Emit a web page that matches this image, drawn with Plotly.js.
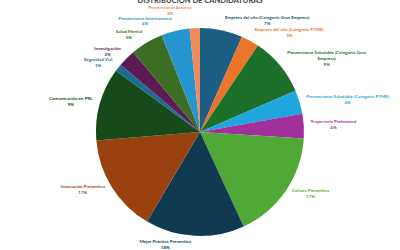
<!DOCTYPE html>
<html>
<head>
<meta charset="utf-8">
<script src="https://cdn.plot.ly/plotly-3.0.1.min.js"></script>
<style>html,body{margin:0;padding:0;background:#fff;}#chart{width:400px;height:250px;}path.textline{display:none;}</style>
</head>
<body>
<div id="chart"></div>
<script>
// Categories (clockwise from 12 o'clock)
const categories = [
  "Empresa del año (Categoría Gran Empresa)",
  "Empresa del año (Categoría PYME)",
  "Prevencionar Saludable (Categoría Gran Empresa)",
  "Prevencionar Saludable (Categoría PYME)",
  "Trayectoria Profesional",
  "Cultura Preventiva",
  "Mejor Práctica Preventiva",
  "Innovación Preventiva",
  "Comunicación en PRL",
  "Seguridad Vial",
  "Investigación",
  "Salud Mental",
  "Prevencionar Internacional",
  "Prevencionar Asturias"
];
// Label text as printed (with wrapping)
const displayLabels = [
  "Empresa del año (Categoría Gran Empresa)",
  "Empresa del año (Categoría PYME)",
  "Prevencionar Saludable (Categoría Gran<br>Empresa)",
  "Prevencionar Saludable (Categoría PYME)",
  "Trayectoria Profesional",
  "Cultura Preventiva",
  "Mejor Práctica Preventiva",
  "Innovación Preventiva",
  "Comunicación en PRL",
  "Seguridad Vial",
  "Investigación",
  "Salud Mental",
  "Prevencionar Internacional",
  "Prevencionar Asturias"
];
// Slice sizes as drawn (share of the circle, %)
const sliceValues = [6.6, 2.8, 9.1, 3.7, 3.8, 17.1, 15.4, 15.2, 11.3, 1.2, 2.7, 5.1, 4.4, 1.6];
// Percent labels as printed
const percentLabels = ["7%", "3%", "9%", "4%", "4%", "17%", "18%", "17%", "9%", "1%", "3%", "5%", "4%", "2%"];
const sliceColors = [
  "#1c5e84", "#ec7429", "#1d7029", "#1fa6de", "#a2309a", "#50a836", "#0f3a52",
  "#99420f", "#174a1a", "#1b6c90", "#5d1b55", "#3b6d22", "#2595cf", "#ef8a5b"
];
const textColors = [
  "#1c4f75", "#ec7429", "#1d7029", "#1fa6de", "#a2309a", "#50a836", "#0f3a52",
  "#99420f", "#174a1a", "#1b6c90", "#5d1b55", "#3b6d22", "#2595cf", "#ef8a5b"
];

const pieSlices = {
  type: "pie",
  labels: categories,
  values: sliceValues,
  sort: false,
  direction: "clockwise",
  rotation: 0,
  marker: {colors: sliceColors, line: {width: 0}},
  textinfo: "none",
  hoverinfo: "label+value",
  showlegend: false,
  domain: {x: [0.24, 0.76], y: [0.056, 0.888]}
};

const pieLabels = {
  type: "pie",
  labels: categories,
  values: sliceValues,
  text: percentLabels,
  customdata: displayLabels,
  sort: false,
  direction: "clockwise",
  rotation: 0,
  marker: {colors: categories.map(() => "rgba(0,0,0,0)"), line: {width: 0}},
  texttemplate: "%{customdata}<br>%{text}",
  textposition: "outside",
  outsidetextfont: {family: "Lato, 'Open Sans', sans-serif", size: 4.5, color: textColors, weight: "bold"},
  hoverinfo: "skip",
  showlegend: false,
  domain: {x: [0.23, 0.77], y: [0.044, 0.908]}
};

const layout = {
  width: 400,
  height: 250,
  margin: {l: 0, r: 0, t: 0, b: 0},
  paper_bgcolor: "#ffffff",
  showlegend: false,
  title: {
    text: "DISTRIBUCIÓN DE CANDIDATURAS",
    font: {family: "Lato, 'Open Sans', sans-serif", size: 7.5, color: "#404040", weight: "bold"},
    x: 0.5, xanchor: "center",
    y: 0.998, yref: "container", yanchor: "middle"
  }
};

Plotly.newPlot("chart", [pieSlices, pieLabels], layout, {displayModeBar: false, staticPlot: true});
</script>
</body>
</html>
